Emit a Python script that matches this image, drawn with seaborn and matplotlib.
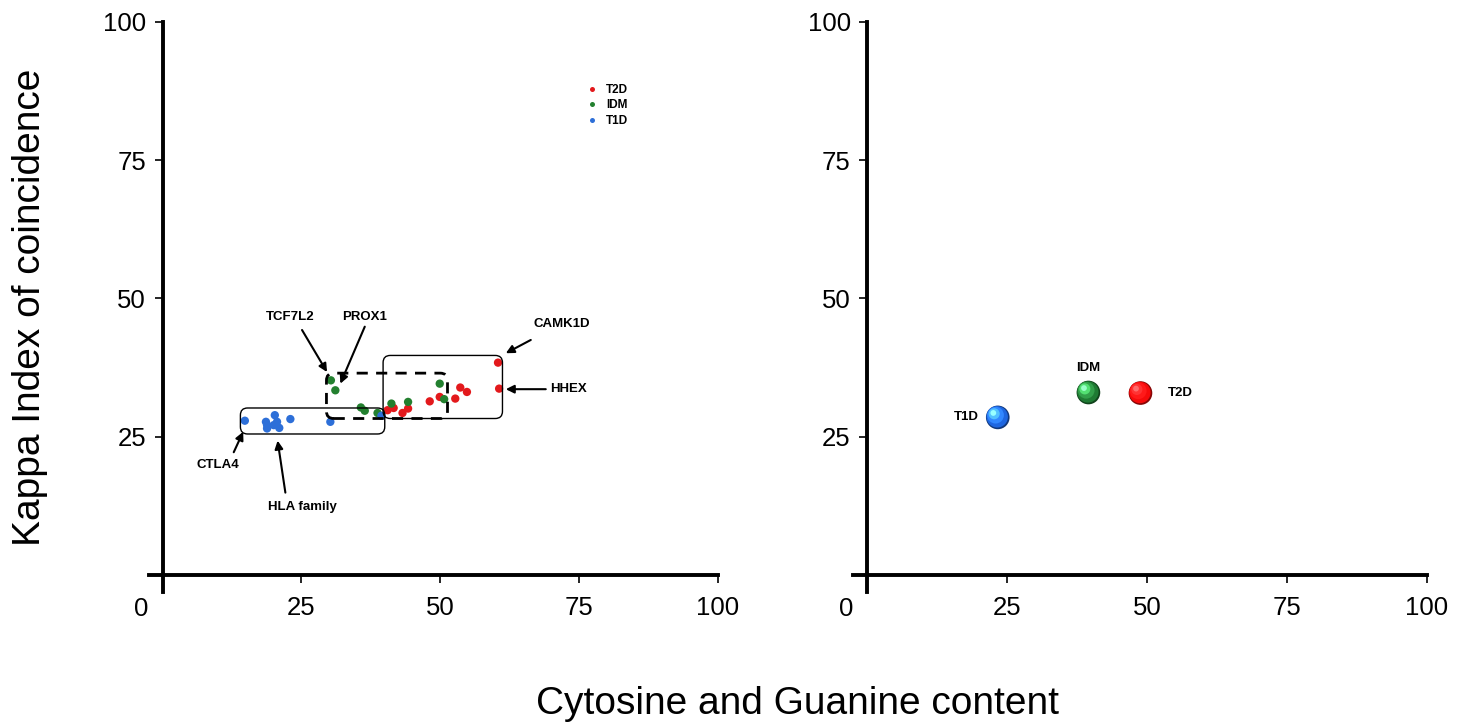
import numpy as np
import pandas as pd
import matplotlib
matplotlib.use("Agg")
import matplotlib.pyplot as plt
import seaborn as sns
from matplotlib.patches import FancyBboxPatch
from matplotlib.transforms import offset_copy
from matplotlib.colors import to_rgb

# --- data ---
t1d_x = [14.8, 18.6, 18.8, 18.8, 20.2, 20.0, 20.6, 21.0, 23.0, 30.2, 39.4]
t1d_y = [27.9, 27.7, 27.1, 26.5, 28.9, 27.1, 27.7, 26.6, 28.2, 27.7, 28.8]
idm_x = [30.3, 31.1, 35.7, 36.4, 38.7, 41.2, 44.2, 49.9, 50.7]
idm_y = [35.2, 33.4, 30.3, 29.7, 29.3, 31.0, 31.3, 34.6, 31.8]
t2d_x = [40.5, 41.6, 43.2, 44.2, 48.1, 49.9, 52.7, 53.6, 54.8, 60.4, 60.6]
t2d_y = [29.8, 30.2, 29.3, 30.1, 31.4, 32.2, 31.9, 33.9, 33.1, 38.4, 33.7]

groups = ["T2D", "IDM", "T1D"]
colors = {"T2D": "#e3191c", "IDM": "#23802f", "T1D": "#2d6fd8"}
sphere_colors = {"T2D": "#f50a0a", "IDM": "#1f7a33", "T1D": "#1e66e0"}

# group centres (right panel)
mean_x = {"T1D": 23.3, "IDM": 39.5, "T2D": 48.8}
mean_y = {"T1D": 28.5, "IDM": 33.0, "T2D": 32.9}
mean_label_offset = {"T1D": (-23, 0), "IDM": (0, 18), "T2D": (29, 0)}

ticks = [25, 50, 75, 100]

# gene call-outs: (label, text position, arrow tail, arrow tip)
callouts = [
    ("TCF7L2", (22.9, 46.7), (25.1, 44.3), (29.6, 36.7)),
    ("PROX1", (36.4, 46.7), (36.4, 44.9), (32.0, 34.6)),
    ("CAMK1D", (71.8, 45.4), (66.3, 42.5), (61.8, 40.1)),
    ("HHEX", (73.1, 33.6), (69.0, 33.6), (61.8, 33.6)),
    ("CTLA4", (10.0, 19.9), (12.8, 22.2), (14.5, 25.9)),
    ("HLA family", (25.1, 12.3), (22.1, 14.9), (20.7, 24.3)),
]

df = pd.concat([
    pd.DataFrame({"gc": t2d_x, "kappa": t2d_y, "group": "T2D"}),
    pd.DataFrame({"gc": idm_x, "kappa": idm_y, "group": "IDM"}),
    pd.DataFrame({"gc": t1d_x, "kappa": t1d_y, "group": "T1D"}),
], ignore_index=True)

sns.set_style("white")
plt.rcParams["font.family"] = ["Liberation Sans", "DejaVu Sans"]
plt.rcParams["text.color"] = "black"
plt.rcParams["xtick.color"] = "black"
plt.rcParams["ytick.color"] = "black"

fig = plt.figure(figsize=(14.63, 7.23), dpi=100)
ax1 = fig.add_axes([0.1017, 0.1817, 0.389, 0.788])
ax2 = fig.add_axes([0.5833, 0.1817, 0.3921, 0.788])


def style_axes(ax):
    ax.set_xlim(-2.5, 100)
    ax.set_ylim(-3, 100)
    for side in ["top", "right"]:
        ax.spines[side].set_visible(False)
    for side in ["left", "bottom"]:
        ax.spines[side].set_position(("data", 0))
        ax.spines[side].set_linewidth(2.8)
        ax.spines[side].set_color("black")
    ax.set_xticks(ticks)
    ax.set_yticks(ticks)
    ax.set_xticklabels([str(t) for t in ticks])
    ax.set_yticklabels([str(t) for t in ticks])
    ax.tick_params(left=True, bottom=True, direction="out", length=6,
                   width=1.2, labelsize=18.5, pad=6, colors="black")
    ax.tick_params(axis="x", pad=9)
    ax.text(-3.8, -4.0, "0", fontsize=18.5, ha="center", va="top")
    ax.set_xlabel("")
    ax.set_ylabel("")
    ax.grid(False)


# --- left panel: individual genes ---
sns.scatterplot(data=df, x="gc", y="kappa", hue="group", hue_order=groups,
                palette=colors, s=36, edgecolor="none", ax=ax1)

# rounded boxes around each group
box_style = {"T1D": "-", "IDM": (0, (4, 3)), "T2D": "-"}
for g in groups:
    sub = df[df["group"] == g]
    x0, x1 = sub["gc"].min() - 0.8, sub["gc"].max() + 0.6
    y0, y1 = sub["kappa"].min() - 1.0, sub["kappa"].max() + 1.3
    ax1.add_patch(FancyBboxPatch((x0, y0), x1 - x0, y1 - y0,
                                 boxstyle="round,pad=0,rounding_size=1.3",
                                 fill=False, lw=2.0 if g == "IDM" else 1.0,
                                 ls=box_style[g], ec="black", zorder=1))

for label, txt, tail, tip in callouts:
    ax1.annotate("", xy=tip, xytext=tail,
                 arrowprops=dict(arrowstyle="-|>", lw=1.5, color="black",
                                 mutation_scale=12, shrinkA=0, shrinkB=0))
    ax1.text(txt[0], txt[1], label, fontsize=9.5, fontweight="bold",
             ha="center", va="center")

sns.move_legend(ax1, "upper left", bbox_to_anchor=(0.748, 0.902), frameon=False,
                title=None, prop={"size": 8.5, "weight": "bold"},
                markerscale=0.6, handletextpad=0.15, labelspacing=0.3,
                borderpad=0)
style_axes(ax1)

# --- right panel: group centres drawn as shaded spheres ---
centres = pd.DataFrame({"gc": [mean_x[g] for g in groups],
                        "kappa": [mean_y[g] for g in groups],
                        "group": groups})
sns.scatterplot(data=centres, x="gc", y="kappa", hue="group", hue_order=groups,
                palette={g: tuple(0.55 * c for c in to_rgb(sphere_colors[g])) for g in groups},
                s=290, edgecolor="none", legend=False, ax=ax2, zorder=3)

layers = [(0.82, -0.4, 1.0), (0.5, -1.6, 1.2), (0.22, -2.6, 1.55), (0.06, -3.2, 2.3)]
for g in groups:
    base = np.array(to_rgb(sphere_colors[g]))
    for frac, off, light in layers:
        col = np.clip(base * light + (light - 1) * 0.25, 0, 1)
        tr = offset_copy(ax2.transData, fig=fig, x=off, y=-off, units="points")
        ax2.scatter([mean_x[g]], [mean_y[g]], s=290 * frac, color=col,
                    edgecolor="none", transform=tr, zorder=4)
    dx, dy = mean_label_offset[g]
    ax2.annotate(g, (mean_x[g], mean_y[g]), xytext=(dx, dy),
                 textcoords="offset points", fontsize=9.5, fontweight="bold",
                 ha="center", va="center")
style_axes(ax2)

fig.text(0.0205, 0.575, "Kappa Index of coincidence", rotation=90,
         fontsize=28, ha="center", va="center")
fig.text(0.5448, 0.026, "Cytosine and Guanine content",
         fontsize=28, ha="center", va="center")

fig.savefig("out.png", dpi=100, facecolor="white")
